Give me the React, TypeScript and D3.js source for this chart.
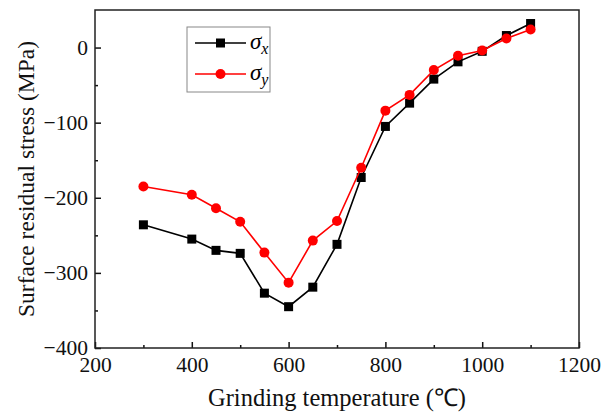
import React, { useEffect, useRef } from 'react'
import * as d3 from 'd3'

const temps = [300, 400, 450, 500, 550, 600, 650, 700, 750, 800, 850, 900, 950, 1000, 1050, 1100]
const sigmaX = [-236, -255, -270, -274, -327, -345, -319, -262, -173, -105, -74, -42, -19, -5, 16, 32]
const sigmaY = [-185, -196, -214, -232, -273, -313, -257, -231, -160, -84, -63, -30, -11, -4, 12, 24]
const xTicks = [200, 400, 600, 800, 1000, 1200]
const yTicks = [-400, -300, -200, -100, 0]

export default function App() {
  const ref = useRef<SVGSVGElement>(null)

  useEffect(() => {
    const svg = d3.select(ref.current)
    svg.selectAll('*').remove()

    const left = 95, right = 579, top = 10, bottom = 348
    const x = d3.scaleLinear().domain([200, 1200]).range([left, right])
    const y = d3.scaleLinear().domain([-400, 50]).range([bottom, top])
    const font = '"Liberation Serif", "Times New Roman", serif'

    svg.append('rect').attr('width', 601).attr('height', 412).attr('fill', '#fff')

    // ticks inward, minor ticks between
    const xAxis = svg.append('g').attr('transform', `translate(0,${bottom})`)
      .call(d3.axisBottom(x).tickValues(xTicks).tickSize(-6).tickPadding(9).tickFormat(d3.format('d')))
    const xMinor = svg.append('g').attr('transform', `translate(0,${bottom})`)
      .call(d3.axisBottom(x).tickValues(d3.range(300, 1200, 200)).tickSize(-3).tickFormat(() => ''))
    const yAxis = svg.append('g').attr('transform', `translate(${left},0)`)
      .call(d3.axisLeft(y).tickValues(yTicks).tickSize(-6).tickPadding(7))
    const yMinor = svg.append('g').attr('transform', `translate(${left},0)`)
      .call(d3.axisLeft(y).tickValues([-350, -250, -150, -50]).tickSize(-3).tickFormat(() => ''))

    for (const g of [xAxis, xMinor, yAxis, yMinor]) {
      g.select('.domain').remove()
      g.selectAll('line').attr('stroke', '#111').attr('stroke-width', 1.5)
      g.selectAll('text').attr('font-family', font).attr('font-size', 21.5).attr('fill', '#111')
    }

    svg.append('rect')
      .attr('x', left).attr('y', top)
      .attr('width', right - left).attr('height', bottom - top)
      .attr('fill', 'none').attr('stroke', '#222').attr('stroke-width', 1.5)

    const series = [
      { vals: sigmaX, color: '#000', shape: 'square' },
      { vals: sigmaY, color: '#ff0000', shape: 'circle' },
    ]
    const line = d3.line<number>().x((d, i) => x(temps[i])).y(d => y(d))

    series.forEach(s => {
      svg.append('path').datum(s.vals).attr('d', line)
        .attr('fill', 'none').attr('stroke', s.color).attr('stroke-width', 1.6)
      if (s.shape === 'square') {
        svg.selectAll(null).data(s.vals).enter().append('rect')
          .attr('x', (d, i) => x(temps[i]) - 4.5).attr('y', d => y(d) - 4.5)
          .attr('width', 9).attr('height', 9).attr('fill', s.color)
      } else {
        svg.selectAll(null).data(s.vals).enter().append('circle')
          .attr('cx', (d, i) => x(temps[i])).attr('cy', d => y(d))
          .attr('r', 5).attr('fill', s.color)
      }
    })

    // legend
    const lg = svg.append('g')
    lg.append('rect').attr('x', 187).attr('y', 27).attr('width', 83).attr('height', 65)
      .attr('fill', '#fff').attr('stroke', '#888').attr('stroke-width', 1)
    const items = [
      { label: 'x', color: '#000', shape: 'square', yy: 43 },
      { label: 'y', color: '#ff0000', shape: 'circle', yy: 74 },
    ]
    items.forEach(it => {
      lg.append('line').attr('x1', 195).attr('x2', 246).attr('y1', it.yy).attr('y2', it.yy)
        .attr('stroke', it.color).attr('stroke-width', 1.6)
      if (it.shape === 'square') {
        lg.append('rect').attr('x', 216).attr('y', it.yy - 4.5).attr('width', 9).attr('height', 9).attr('fill', it.color)
      } else {
        lg.append('circle').attr('cx', 220.5).attr('cy', it.yy).attr('r', 5).attr('fill', it.color)
      }
      const t = lg.append('text').attr('x', 250).attr('y', it.yy + 6)
        .attr('font-family', font).attr('font-size', 23).attr('font-style', 'italic').attr('fill', '#000')
      t.append('tspan').text('σ')
      t.append('tspan').attr('dy', 5).attr('font-size', 16).text(it.label)
    })

    svg.append('text')
      .attr('x', (left + right) / 2).attr('y', 406)
      .attr('text-anchor', 'middle')
      .attr('font-family', font).attr('font-size', 24.5).attr('fill', '#111')
      .text('Grinding temperature (℃)')

    svg.append('text')
      .attr('transform', `translate(34,${(top + bottom) / 2}) rotate(-90)`)
      .attr('text-anchor', 'middle')
      .attr('font-family', font).attr('font-size', 23.5).attr('fill', '#111')
      .text('Surface residual stress (MPa)')
  }, [])

  return (
    <svg ref={ref} width={601} height={412}
      style={{ position: 'absolute', left: 0, top: 0, display: 'block' }} />
  )
}
